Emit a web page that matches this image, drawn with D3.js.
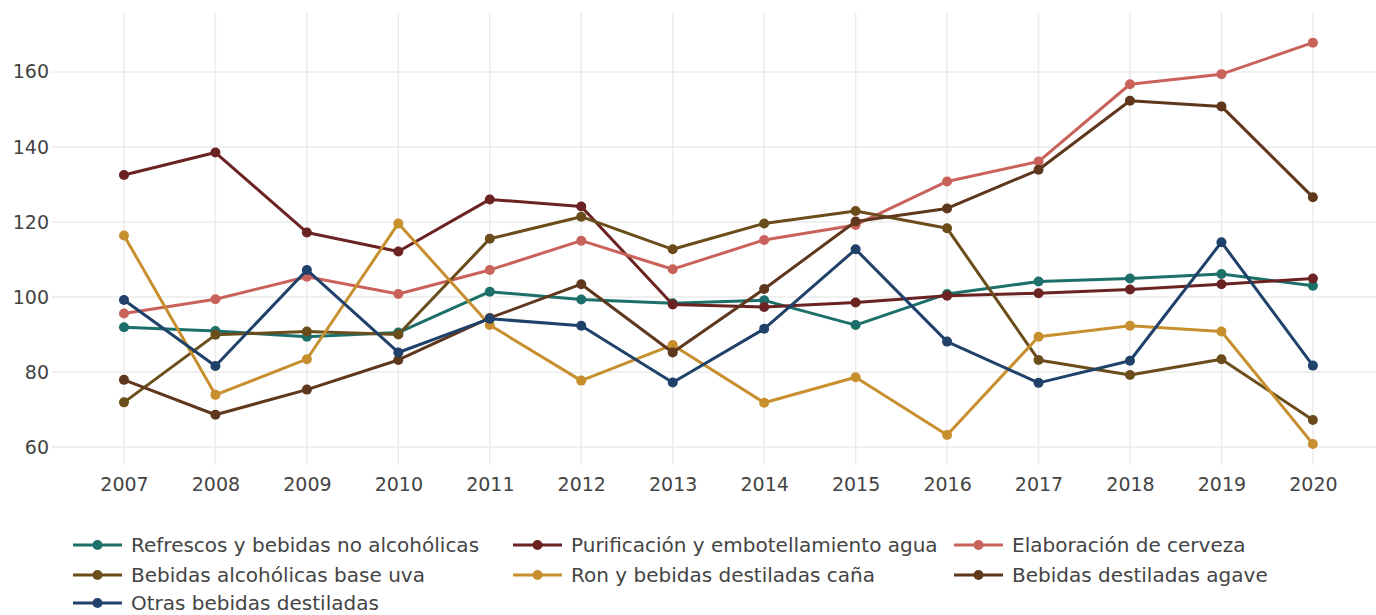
<!DOCTYPE html>
<html>
<head>
<meta charset="utf-8">
<script src="https://cdn.jsdelivr.net/npm/d3@7"></script>
<style>
  html, body { margin: 0; padding: 0; background: #fff; }
  svg { display: block; }
  text { font-family: "DejaVu Sans", Verdana, sans-serif; fill: #444; }
</style>
</head>
<body>
<svg id="chart" width="1376" height="615"></svg>
<script>
const years = [2007, 2008, 2009, 2010, 2011, 2012, 2013, 2014, 2015, 2016, 2017, 2018, 2019, 2020];
const yTicks = [60, 80, 100, 120, 140, 160];

const seriesNames = [
  "Refrescos y bebidas no alcohólicas",
  "Purificación y embotellamiento agua",
  "Elaboración de cerveza",
  "Bebidas alcohólicas base uva",
  "Ron y bebidas destiladas caña",
  "Bebidas destiladas agave",
  "Otras bebidas destiladas"
];
const seriesColors = ["#1d6f69", "#6b2222", "#c9625b", "#6b4d1b", "#c88f2f", "#5f371c", "#1f416a"];

const refrescos    = [91.9, 90.9, 89.4, 90.5, 101.4, 99.3, 98.3, 99.1, 92.5, 100.8, 104.1, 104.9, 106.1, 103.0];
const purificacion = [132.5, 138.5, 117.2, 112.1, 126.0, 124.1, 98.0, 97.3, 98.5, 100.3, 101.0, 102.0, 103.4, 104.9];
const cerveza      = [95.6, 99.4, 105.4, 100.8, 107.2, 115.0, 107.4, 115.2, 119.2, 130.8, 136.1, 156.7, 159.4, 167.8];
const uva          = [71.9, 89.9, 90.8, 90.0, 115.5, 121.4, 112.7, 119.6, 122.9, 118.3, 83.2, 79.2, 83.4, 67.2];
const ron          = [116.4, 73.9, 83.4, 119.6, 92.5, 77.7, 87.2, 71.8, 78.6, 63.2, 89.4, 92.3, 90.8, 60.8];
const agave        = [77.9, 68.6, 75.3, 83.2, 94.4, 103.4, 85.2, 102.1, 120.1, 123.6, 133.9, 152.3, 150.8, 126.6];
const otras        = [99.2, 81.6, 107.2, 85.2, 94.2, 92.3, 77.2, 91.5, 112.7, 88.1, 77.1, 83.0, 114.6, 81.7];

const seriesValues = [refrescos, purificacion, cerveza, uva, ron, agave, otras];

const svg = d3.select("#chart");
const plot = { left: 52, right: 1376, top: 13, bottom: 465 };

const x = d3.scaleLinear().domain([2006.213, 2020.69]).range([plot.left, plot.right]);
const y = d3.scaleLinear().domain([55.2, 175.7]).range([plot.bottom, plot.top]);

// grid
const grid = svg.append("g");
grid.selectAll("line.h").data(yTicks).join("line")
  .attr("x1", plot.left).attr("x2", plot.right)
  .attr("y1", d => y(d)).attr("y2", d => y(d))
  .attr("stroke", "#ebebeb").attr("stroke-width", 1.5);
grid.selectAll("line.v").data(years).join("line")
  .attr("x1", d => x(d)).attr("x2", d => x(d))
  .attr("y1", plot.top).attr("y2", plot.bottom)
  .attr("stroke", "#ebebeb").attr("stroke-width", 1.5);

// axes (labels only)
const yAxis = d3.axisLeft(y).tickValues(yTicks).tickSize(0).tickPadding(0);
const gy = svg.append("g").attr("transform", `translate(${plot.left - 3},0)`).call(yAxis);
gy.select(".domain").remove();
gy.selectAll("text").style("font-size", "19px").attr("fill", "#444")
  .style("font-family", '"DejaVu Sans", Verdana, sans-serif');

const xAxis = d3.axisBottom(x).tickValues(years).tickFormat(d3.format("d")).tickSize(0).tickPadding(0);
const gx = svg.append("g").attr("transform", `translate(0,${plot.bottom + 12})`).call(xAxis);
gx.select(".domain").remove();
gx.selectAll("text").style("font-size", "19px").attr("fill", "#444")
  .style("font-family", '"DejaVu Sans", Verdana, sans-serif');

// lines
const line = d3.line().x((d, i) => x(years[i])).y(d => y(d));
seriesValues.forEach((vals, si) => {
  const g = svg.append("g");
  g.append("path").datum(vals)
    .attr("d", line).attr("fill", "none")
    .attr("stroke", seriesColors[si]).attr("stroke-width", 3)
    .attr("stroke-linejoin", "round");
  g.selectAll("circle").data(vals).join("circle")
    .attr("cx", (d, i) => x(years[i])).attr("cy", d => y(d))
    .attr("r", 5).attr("fill", seriesColors[si]);
});

// legend
const legCols = [73, 513, 954];
const legRows = [545, 575, 603];
const leg = svg.append("g");
seriesNames.forEach((name, i) => {
  const cx = legCols[i % 3], cy = legRows[Math.floor(i / 3)];
  const g = leg.append("g").attr("transform", `translate(${cx},${cy})`);
  g.append("line").attr("x1", 0).attr("x2", 49).attr("y1", 0).attr("y2", 0)
    .attr("stroke", seriesColors[i]).attr("stroke-width", 3);
  g.append("circle").attr("cx", 24.5).attr("cy", 0).attr("r", 5).attr("fill", seriesColors[i]);
  g.append("text").attr("x", 58).attr("y", 0).attr("dy", "0.35em")
    .style("font-size", "20px").text(name);
});
</script>
</body>
</html>
